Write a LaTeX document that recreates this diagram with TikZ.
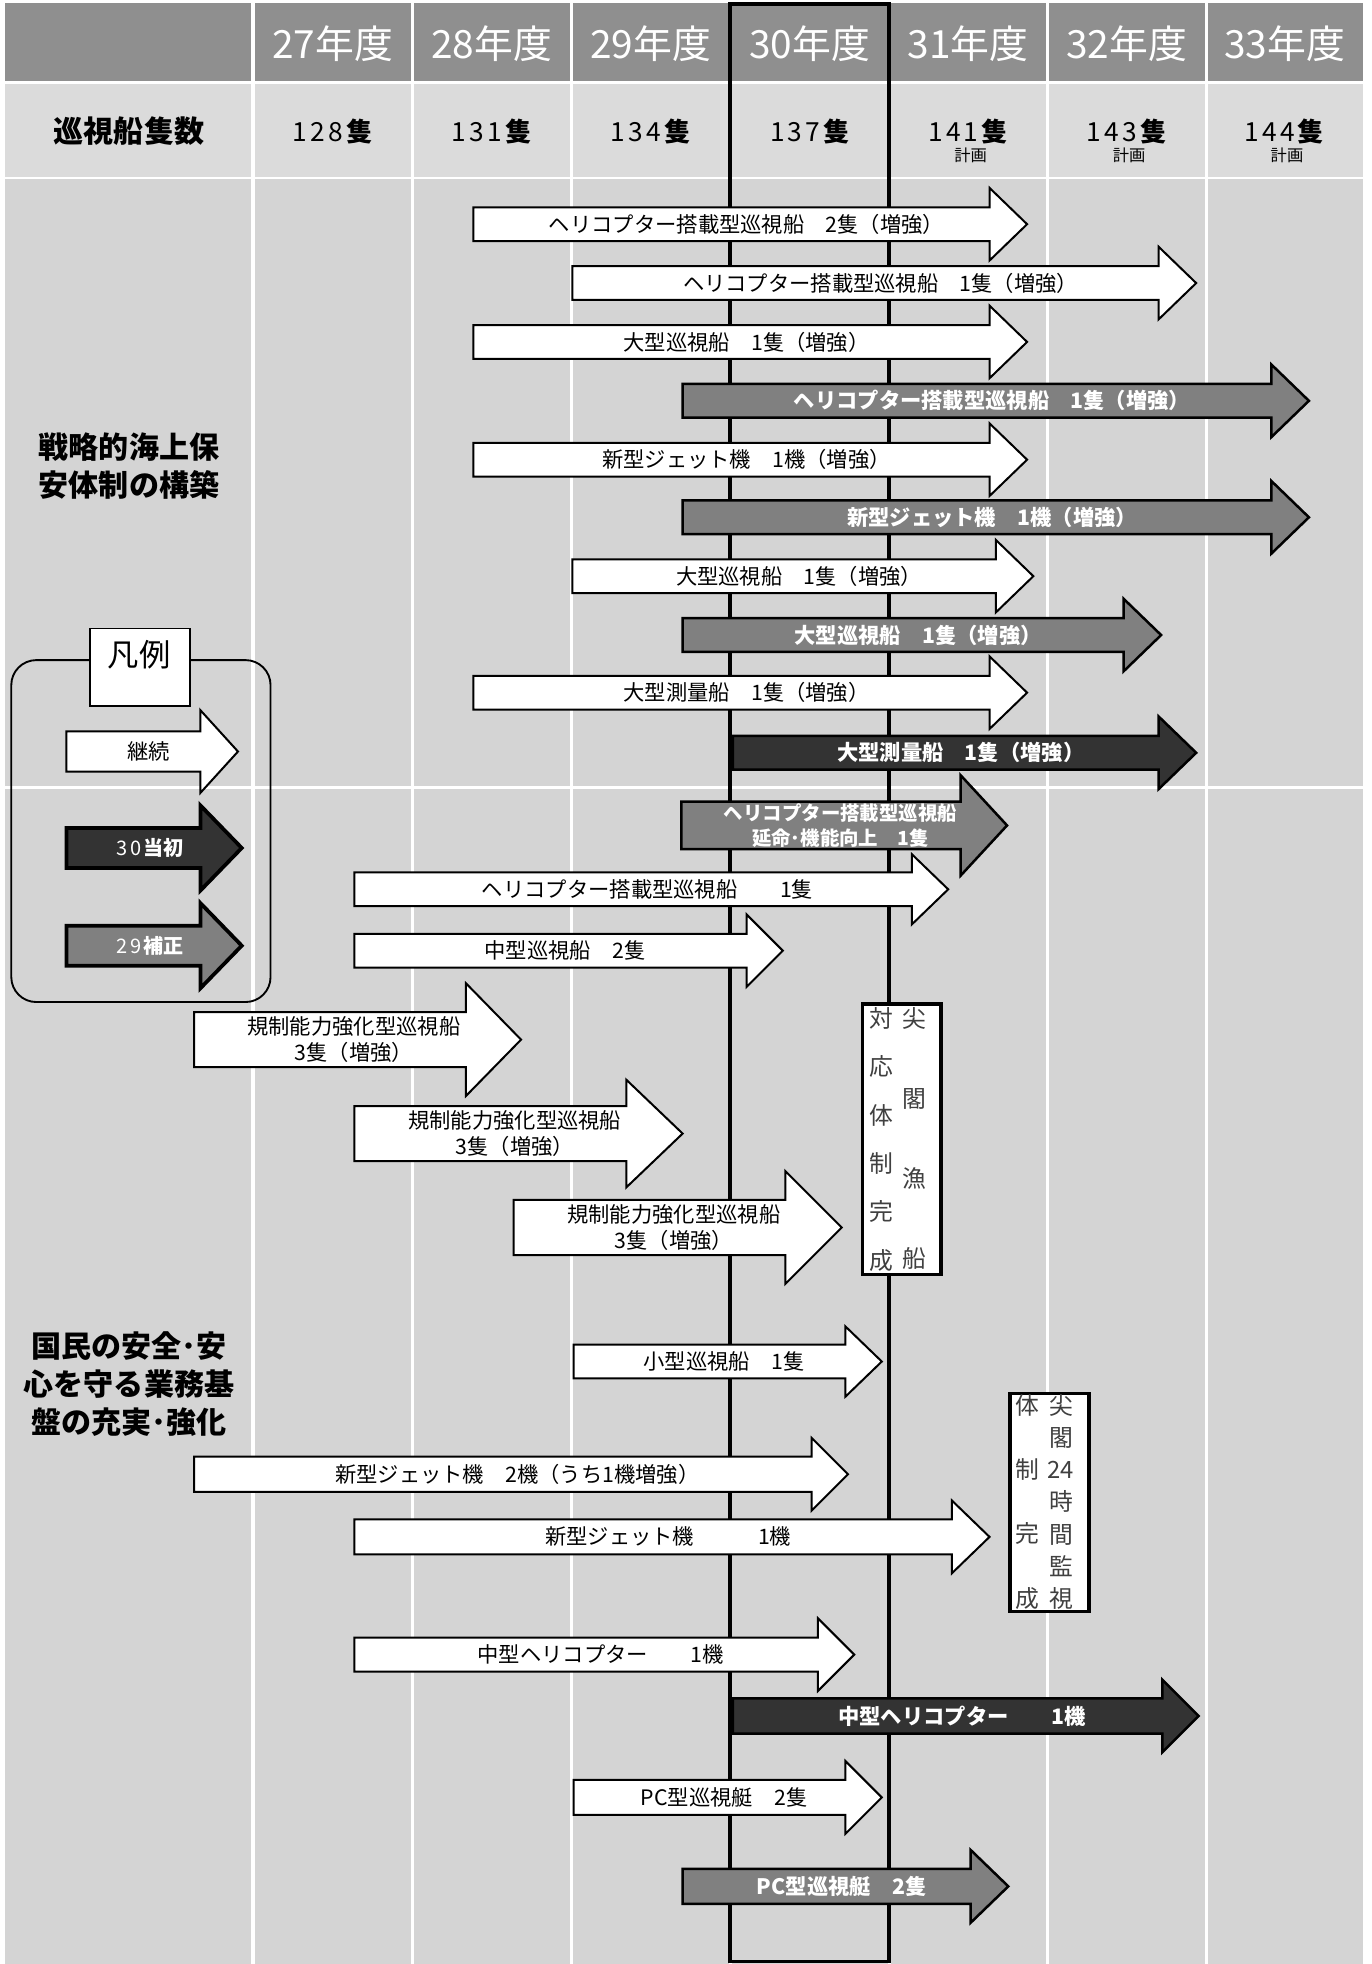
\documentclass[tikz,border=0pt]{standalone}
\usepackage{fontspec}
\setmainfont{Noto Sans CJK JP}
\definecolor{hdr}{gray}{0.56}
\definecolor{rowtwo}{gray}{0.86}
\definecolor{bodyg}{gray}{0.83}
\definecolor{arrgray}{gray}{0.5}
\definecolor{arrdark}{gray}{0.2}
\definecolor{sktext}{gray}{0.25}
\newcommand\harr[9]{%
  \draw[#1] (#3,{#6-#7}) -- (#4,{#6-#7}) -- (#4,{#6-#8}) -- (#5,#6) -- (#4,{#6+#8}) -- (#4,{#6+#7}) -- (#3,{#6+#7}) -- cycle;
  \node[#1text] (#2) at ({(#3+#5)/2-3},#6) {#9};
}
\newcommand\lsp[1]{{\addfontfeatures{LetterSpace=12}#1}}
\begin{document}
\begin{tikzpicture}[x=1pt,y=-1pt,
  wa/.style={draw=black,line width=1.6pt,fill=white,line join=miter},
  ga/.style={draw=black,line width=2pt,fill=arrgray,line join=miter},
  gas/.style={ga},
  da/.style={draw=black,line width=2pt,fill=arrdark,line join=miter},
  lwa/.style={draw=black,line width=1.6pt,fill=white,line join=miter},
  lga/.style={draw=black,line width=3pt,fill=arrgray,line join=miter},
  lda/.style={draw=black,line width=3pt,fill=arrdark,line join=miter},
  watext/.style={font=\fontsize{17}{21}\selectfont,text=black,align=center,inner sep=0pt},
  gatext/.style={font=\bfseries\fontsize{17}{21}\selectfont,text=white,align=center,inner sep=0pt},
  gastext/.style={font=\bfseries\fontsize{15.5}{20}\selectfont,text=white,align=center,inner sep=0pt},
  datext/.style={gatext},
  lwatext/.style={font=\fontsize{17}{21}\selectfont,text=black,inner sep=0pt},
  lgatext/.style={font=\fontsize{16}{20}\selectfont,text=white,inner sep=0pt},
  ldatext/.style={lgatext},
  year/.style={font=\fontsize{31}{31}\selectfont,text=white,inner sep=0pt},
  cnt/.style={font=\fontsize{21}{21}\selectfont,text=black,inner sep=0pt},
  plan/.style={font=\fontsize{13}{13}\selectfont,text=black,inner sep=0pt},
  sect/.style={font=\bfseries\fontsize{24}{30}\selectfont,text=black,align=center,inner sep=0pt},
  skbox/.style={draw=black,line width=3pt,fill=white,inner sep=0pt},
  sktxt/.style={text=sktext,align=center,inner sep=0pt,anchor=north},
  grid/.style={white,line width=2.5pt}
]
\useasboundingbox (0,0) rectangle (1095,1568);
% backgrounds
\fill[hdr] (4,2) rectangle (1088,65);
\fill[rowtwo] (4,67) rectangle (1088,141);
\fill[bodyg] (4,143) rectangle (1088,1568);
\foreach \x in {202,329,456,583,710,836,963}
  \draw[grid] (\x,2) -- (\x,1568);
\draw[grid] (4,629) -- (1088,629);
% header years
\node[year] (y27) at (265.5,35) {27年度};
\node[year] (y28) at (392.5,35) {28年度};
\node[year] (y29) at (519.5,35) {29年度};
\node[year] (y30) at (646.5,35) {30年度};
\node[year] (y31) at (773,35) {31年度};
\node[year] (y32) at (899.5,35) {32年度};
\node[year] (y33) at (1025.5,35) {33年度};
% counts
\node[sect] (cntlabel) at (103,105) {巡視船隻数};
\node[cnt] (c27) at (265.5,105) {\lsp{128}\textbf{隻}};
\node[cnt] (c28) at (392.5,105) {\lsp{131}\textbf{隻}};
\node[cnt] (c29) at (519.5,105) {\lsp{134}\textbf{隻}};
\node[cnt] (c30) at (646.5,105) {\lsp{137}\textbf{隻}};
\node[cnt] (c31) at (773,105) {\lsp{141}\textbf{隻}};
\node[cnt] (c32) at (899.5,105) {\lsp{143}\textbf{隻}};
\node[cnt] (c33) at (1025.5,105) {\lsp{144}\textbf{隻}};
\node[plan] (p31) at (775,124) {計画};
\node[plan] (p32) at (901.5,124) {計画};
\node[plan] (p33) at (1027.5,124) {計画};
% 30 year frame
\draw[black,line width=3pt] (583,3) rectangle (710,1566);
% section labels
\node[sect] (s1) at (103,372) {戦略的海上保\\安体制の構築};
\node[sect] (s2) at (103,1105) {国民の安全･安\\心を守る業務基\\盤の充実･強化};
% legend
\draw[black,line width=1.5pt,rounded corners=20pt] (9,527) rectangle (216,800);
\node[draw=black,line width=1.5pt,fill=white,minimum width=80pt,minimum height=62pt,inner sep=0pt,anchor=north west] (lgbox) at (71,501) {};
\node[font=\fontsize{25}{25}\selectfont,inner sep=0pt] (lgtitle) at (111,523) {凡例};
\harr{lwa}{l1}{53}{160}{190}{600}{16}{33}{継続}
\harr{lda}{l2}{53}{160}{193}{677}{16}{34}{\lsp{30}\textbf{当初}}
\harr{lga}{l3}{53}{160}{193}{755}{16}{34}{\lsp{29}\textbf{補正}}
% arrows
\harr{wa}{a1}{378}{790}{820}{179}{13.5}{29}{ヘリコプター搭載型巡視船　2隻（増強）}
\harr{wa}{a2}{457}{925}{955}{226}{13.5}{29}{ヘリコプター搭載型巡視船　1隻（増強）}
\harr{wa}{a3}{378}{790}{820}{273}{13.5}{29}{大型巡視船　1隻（増強）}
\harr{ga}{a4}{545}{1015}{1045}{320}{13.5}{29}{ヘリコプター搭載型巡視船　1隻（増強）}
\harr{wa}{a5}{378}{790}{820}{367}{13.5}{29}{新型ジェット機　1機（増強）}
\harr{ga}{a6}{545}{1015}{1045}{413}{13.5}{29}{新型ジェット機　1機（増強）}
\harr{wa}{a7}{457}{795}{825}{460}{13.5}{29}{大型巡視船　1隻（増強）}
\harr{ga}{a8}{545}{897}{927}{507}{13.5}{29}{大型巡視船　1隻（増強）}
\harr{wa}{a9}{378}{790}{820}{553}{13.5}{29}{大型測量船　1隻（増強）}
\harr{da}{a10}{585}{925}{955}{601}{13.5}{29}{大型測量船　1隻（増強）}
\harr{gas}{a11}{544}{767}{804}{659}{19}{40}{ヘリコプター搭載型巡視船\\延命･機能向上　1隻}
\harr{wa}{a12}{283}{728}{757}{710}{13.5}{28}{ヘリコプター搭載型巡視船　　1隻}
\harr{wa}{a13}{283}{596}{625}{759}{13.5}{29}{中型巡視船　2隻}
\harr{wa}{a14}{155}{372}{416}{830}{22}{45}{規制能力強化型巡視船\\3隻（増強）}
\harr{wa}{a15}{283}{500}{545}{905}{22}{43}{規制能力強化型巡視船\\3隻（増強）}
\harr{wa}{a16}{410}{627}{672}{980}{22}{45}{規制能力強化型巡視船\\3隻（増強）}
\harr{wa}{a17}{458}{675}{704}{1087}{13.5}{28}{小型巡視船　1隻}
\harr{wa}{a18}{155}{648}{677}{1177}{14}{29}{新型ジェット機　2機（うち1機増強）}
\harr{wa}{a19}{283}{760}{790}{1227}{14}{29}{新型ジェット機　　　1機}
\harr{wa}{a20}{283}{653}{682}{1321}{13.5}{29}{中型ヘリコプター　　1機}
\harr{da}{a21}{585}{928}{957}{1370}{14}{29}{中型ヘリコプター　　1機}
\harr{wa}{a22}{458}{675}{704}{1435}{14}{29}{PC型巡視艇　2隻}
\harr{ga}{a23}{545}{775}{805}{1506}{14}{29}{PC型巡視艇　2隻}
% Senkaku boxes
\node[skbox,minimum width=63pt,minimum height=216pt,anchor=north west] (sk1) at (687,800) {};
\node[sktxt,font=\fontsize{19}{38.6}\selectfont] (sk1l) at (704,804) {対\\応\\体\\制\\完\\成};
\node[sktxt,font=\fontsize{19}{64}\selectfont] (sk1r) at (730,804) {尖\\閣\\漁\\船};
\node[skbox,minimum width=63pt,minimum height=174pt,anchor=north west] (sk2) at (805,1111) {};
\node[sktxt,font=\fontsize{19}{51.3}\selectfont] (sk2l) at (820,1113) {体\\制\\完\\成};
\node[sktxt,font=\fontsize{19}{25.7}\selectfont] (sk2r) at (847,1113) {尖\\閣\\24\\時\\間\\監\\視};
\end{tikzpicture}
\end{document}
